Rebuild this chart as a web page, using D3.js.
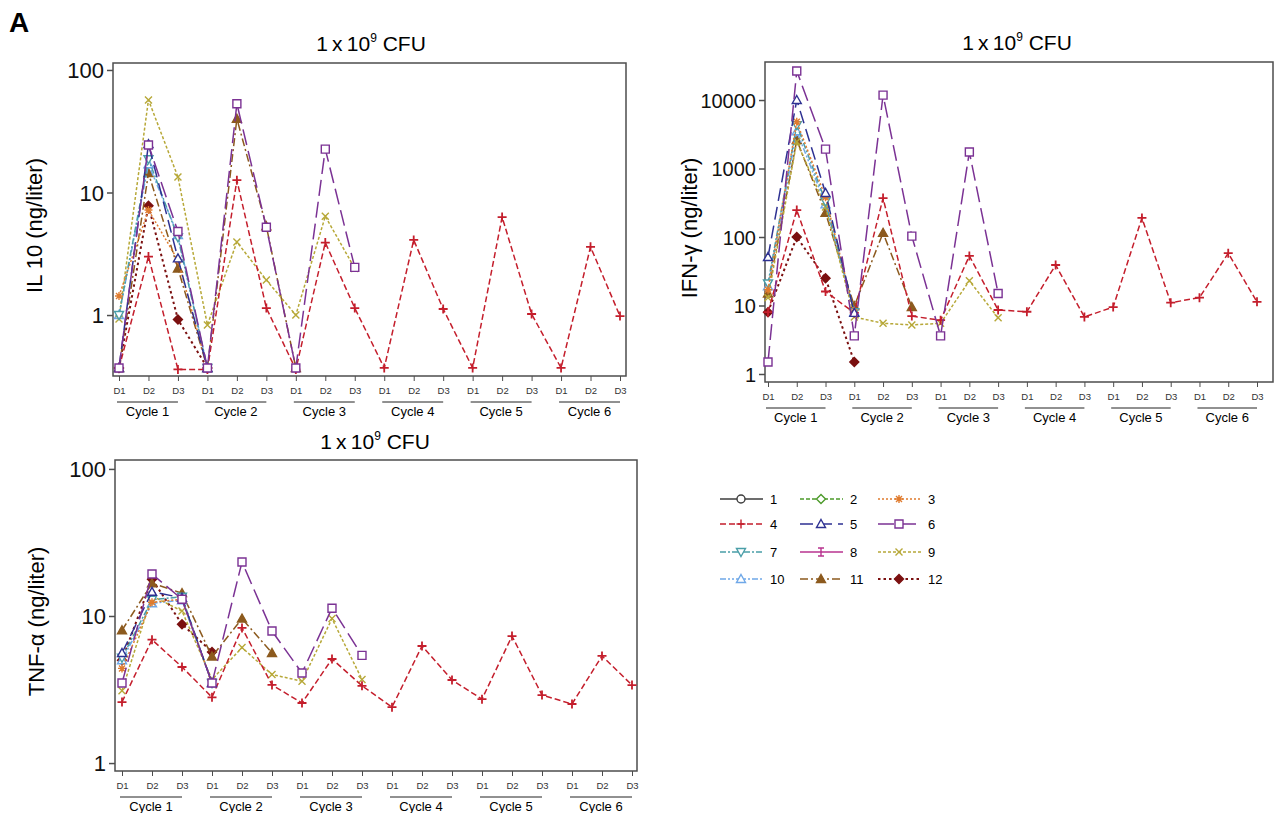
<!DOCTYPE html>
<html>
<head>
<meta charset="utf-8">
<script src="https://cdn.jsdelivr.net/npm/d3@7"></script>
<style>
body { margin: 0; background: #fff; }
text { font-family: "Liberation Sans", Arial, sans-serif; }
</style>
</head>
<body>
<div id="chart"></div>
<script>
// tick labels
const days = ["D1", "D2", "D3"]
const cycles = ["Cycle 1", "Cycle 2", "Cycle 3", "Cycle 4", "Cycle 5", "Cycle 6"]
const seriesNames = ["1", "2", "3", "4", "5", "6", "7", "8", "9", "10", "11", "12"]

// IL 10 (ng/liter), one value per day, 18 days
const il10_3 = [1.43, 7.2, 2.8, 0.37]
const il10_4 = [0.37, 3.0, 0.36, 0.36, 12.6, 1.14, 0.36, 3.9, 1.14, 0.37, 4.1, 1.12, 0.37, 6.3, 1.02, 0.37, 3.6, 0.98]
const il10_5 = [0.37, 24.8, 2.9, 0.37]
const il10_6 = [0.37, 24.4, 4.8, 0.37, 53, 5.2, 0.37, 22.6, 2.45]
const il10_7 = [1.0, 18.7, 4.3, 0.37]
const il10_9 = [0.93, 57, 13.4, 0.83, 3.95, 1.93, 1.0, 6.4, 2.4]
const il10_10 = [1.0, 17, 4.5, 0.37]
const il10_11 = [0.37, 14.4, 2.4, 0.37, 40, 5.3, 0.37]
const il10_12 = [0.37, 7.8, 0.92, 0.37]

// IFN-gamma (ng/liter)
const ifn_3 = [17, 4800, 380, 8]
const ifn_4 = [8, 247, 16, 7.8, 370, 7, 6.1, 53, 8.6, 8.1, 39, 6.8, 9.5, 190, 11, 13, 58, 11.3]
const ifn_5 = [51, 10000, 440, 7.8]
const ifn_6 = [1.5, 26500, 1920, 3.6, 11800, 103, 3.6, 1740, 15]
const ifn_7 = [21, 4300, 330, 8]
const ifn_9 = [13, 2450, 275, 6.8, 5.5, 5.2, 5.5, 23, 6.6]
const ifn_10 = [19, 3500, 300, 8]
const ifn_11 = [15, 2600, 225, 9.8, 115, 9.5]
const ifn_12 = [8, 100, 25, 1.5]

// TNF-alpha (ng/liter)
const tnf_3 = [4.4, 12.4, 13, 3.5]
const tnf_4 = [2.6, 6.9, 4.5, 2.8, 8.3, 3.4, 2.56, 5.1, 3.35, 2.4, 6.25, 3.67, 2.72, 7.3, 2.9, 2.52, 5.35, 3.39]
const tnf_5 = [5.6, 14.6, 13.3, 3.5]
const tnf_6 = [3.5, 19.3, 13, 3.5, 23.3, 7.9, 4.1, 11.3, 5.4]
const tnf_7 = [5.2, 12.9, 13.5, 3.5]
const tnf_9 = [3.1, 13.7, 10.8, 3.7, 6.1, 4.0, 3.6, 9.6, 3.7]
const tnf_10 = [5.0, 12.2, 12.8, 3.5]
const tnf_11 = [8.0, 16.7, 14.3, 5.3, 9.6, 5.6]
const tnf_12 = [5, 17.8, 8.8, 5.7]

//series styles
const styles = {
	"1": {color: "#3d3d3d", dash: null, marker: "circle", fill: false},
	"2": {color: "#4c9a2a", dash: "4,2", marker: "diamond", fill: false},
	"3": {color: "#e07b2e", dash: "2,2", marker: "asterisk", fill: false},
	"4": {color: "#c41e2c", dash: "6,3", marker: "plus", fill: false},
	"5": {color: "#2e3192", dash: "13,6", marker: "triangle", fill: false},
	"6": {color: "#7b3294", dash: "16,6", marker: "square", fill: false},
	"7": {color: "#4a9ea8", dash: "6,2,2,2", marker: "tridown", fill: false},
	"8": {color: "#b8338f", dash: null, marker: "ibar", fill: false},
	"9": {color: "#b7a838", dash: "3,2", marker: "x", fill: false},
	"10": {color: "#6fa8e8", dash: "6,2,2,2,2,2", marker: "triangle", fill: false},
	"11": {color: "#8c5a1e", dash: "8,3,2,3", marker: "triangle", fill: true},
	"12": {color: "#7b1010", dash: "2.5,3", marker: "diamond", fill: true}
}

const markerPaths = {
	circle: "M4,0A4,4 0 1 1 -4,0A4,4 0 1 1 4,0Z",
	diamond: "M0,-4.5L4.5,0L0,4.5L-4.5,0Z",
	asterisk: "M-4,0L4,0M0,-4L0,4M-3,-3L3,3M-3,3L3,-3",
	plus: "M-4.5,0L4.5,0M0,-4.5L0,4.5",
	triangle: "M0,-4.5L4.5,3.5L-4.5,3.5Z",
	square: "M-4,-4H4V4H-4Z",
	tridown: "M0,4.5L4.5,-3.5L-4.5,-3.5Z",
	ibar: "M-3,-4H3M0,-4V4M-3,4H3",
	x: "M-3.5,-3.5L3.5,3.5M-3.5,3.5L3.5,-3.5"
}

//drawing order, purple on top
const drawOrder = ["12", "11", "10", "9", "7", "3", "2", "1", "8", "4", "5", "6"]

const panels = [
	{
		label: "IL 10 (ng/liter)", labelX: 42,
		series: {"3": il10_3, "4": il10_4, "5": il10_5, "6": il10_6, "7": il10_7, "9": il10_9, "10": il10_10, "11": il10_11, "12": il10_12},
		frame: {l: 113, t: 63, r: 626, b: 376}, xr: [119, 620],
		ydom: [0.318, 114], ticks: [1, 10, 100], tickSize: 22,
		titleX: 371, titleY: 51
	},
	{
		label: "IFN-\u03b3 (ng/liter)", labelX: 697,
		series: {"3": ifn_3, "4": ifn_4, "5": ifn_5, "6": ifn_6, "7": ifn_7, "9": ifn_9, "10": ifn_10, "11": ifn_11, "12": ifn_12},
		frame: {l: 765, t: 62, r: 1273, b: 382}, xr: [768, 1257],
		ydom: [0.764, 35900], ticks: [1, 10, 100, 1000, 10000], tickSize: 20,
		titleX: 1017, titleY: 50
	},
	{
		label: "TNF-\u03b1 (ng/liter)", labelX: 44,
		series: {"3": tnf_3, "4": tnf_4, "5": tnf_5, "6": tnf_6, "7": tnf_7, "9": tnf_9, "10": tnf_10, "11": tnf_11, "12": tnf_12},
		frame: {l: 115, t: 460, r: 637, b: 771}, xr: [122, 632],
		ydom: [0.883, 115], ticks: [1, 10, 100], tickSize: 22,
		titleX: 375, titleY: 449
	}
]

const w = 1274, h = 813

let svg = d3.select("#chart").append("svg")
	.attr("width", w)
	.attr("height", h)

svg.append("text")
	.attr("x", 9).attr("y", 32)
	.attr("font-size", 28).attr("font-weight", "bold")
	.text("A")

const axisColor = "#4d4d4d"

panels.forEach(p => {
	const f = p.frame
	const x = d3.scaleLinear().domain([0, 17]).range(p.xr)
	const y = d3.scaleLog().domain(p.ydom).range([f.b, f.t])
	let g = svg.append("g")

	//title
	let title = g.append("text")
		.attr("x", p.titleX).attr("y", p.titleY)
		.attr("text-anchor", "middle")
		.attr("font-size", 21)
	title.append("tspan").text("1\u2009x\u200910")
	title.append("tspan").attr("font-size", 12).attr("dy", -9).text("9")
	title.append("tspan").attr("dy", 9).text(" CFU")

	//y label
	g.append("text")
		.attr("transform", `translate(${p.labelX},${(f.t + f.b) / 2 + 6}) rotate(-90)`)
		.attr("text-anchor", "middle")
		.attr("font-size", 22)
		.text(p.label)

	//y axis
	let yAxis = g.append("g")
		.attr("transform", `translate(${f.l},0)`)
		.call(d3.axisLeft(y).tickValues(p.ticks).tickFormat(d3.format("d")).tickSize(6).tickPadding(3))
	yAxis.select(".domain").remove()
	yAxis.selectAll("line").attr("stroke", axisColor).attr("stroke-width", 1.5)
	yAxis.selectAll("text").attr("font-size", p.tickSize).attr("fill", "#111").attr("dy", "0.36em")

	//x axis, day ticks
	let xAxis = g.append("g")
		.attr("transform", `translate(0,${f.b})`)
		.call(d3.axisBottom(x).tickValues(d3.range(18)).tickFormat(i => days[i % 3]).tickSize(5).tickPadding(6))
	xAxis.select(".domain").remove()
	xAxis.selectAll("line").attr("stroke", axisColor).attr("stroke-width", 1)
	xAxis.selectAll("text").attr("font-size", 9.5).attr("fill", "#333")

	//cycle brackets
	cycles.forEach((c, ci) => {
		const x0 = x(ci * 3) - 2, x1 = x(ci * 3 + 2)
		g.append("line")
			.attr("x1", x0).attr("x2", x1)
			.attr("y1", f.b + 26).attr("y2", f.b + 26)
			.attr("stroke", "#222").attr("stroke-width", 1)
		g.append("text")
			.attr("x", (x0 + x1) / 2).attr("y", f.b + 40)
			.attr("text-anchor", "middle")
			.attr("font-size", 13)
			.text(c)
	})

	//frame
	g.append("rect")
		.attr("x", f.l).attr("y", f.t)
		.attr("width", f.r - f.l).attr("height", f.b - f.t)
		.attr("fill", "none")
		.attr("stroke", axisColor).attr("stroke-width", 1.5)

	const line = d3.line()
		.defined(d => d != null)
		.x((d, i) => x(i))
		.y(d => y(d))

	drawOrder.forEach(name => {
		const vals = p.series[name]
		if(!vals) return
		const s = styles[name]
		g.append("path")
			.attr("d", line(vals))
			.attr("fill", "none")
			.attr("stroke", s.color)
			.attr("stroke-width", name == "12" ? 2 : 1.5)
			.attr("stroke-dasharray", s.dash)

		g.selectAll(null)
			.data(vals.map((v, i) => ({v, i})).filter(d => d.v != null))
			.join("path")
			.attr("transform", d => `translate(${x(d.i)},${y(d.v)})`)
			.attr("d", markerPaths[s.marker])
			.attr("fill", s.fill ? s.color : "#fff")
			.attr("stroke", s.color)
			.attr("stroke-width", s.marker == "plus" ? 1.8 : 1.4)
	})
})

//legend
const legCols = [720, 800, 878]
const legRows = [499, 524, 552, 579]
let legend = svg.append("g")
seriesNames.forEach((name, i) => {
	const lx = legCols[i % 3], ly = legRows[Math.floor(i / 3)]
	const s = styles[name]
	legend.append("line")
		.attr("x1", lx).attr("x2", lx + 43)
		.attr("y1", ly).attr("y2", ly)
		.attr("stroke", s.color)
		.attr("stroke-width", name == "12" ? 2 : 1.5)
		.attr("stroke-dasharray", s.dash)
	legend.append("path")
		.attr("transform", `translate(${lx + 21},${ly})`)
		.attr("d", markerPaths[s.marker])
		.attr("fill", s.fill ? s.color : "#fff")
		.attr("stroke", s.color)
		.attr("stroke-width", 1.4)
	legend.append("text")
		.attr("x", lx + 50).attr("y", ly + 5)
		.attr("font-size", 13)
		.text(name)
})
</script>
</body>
</html>
